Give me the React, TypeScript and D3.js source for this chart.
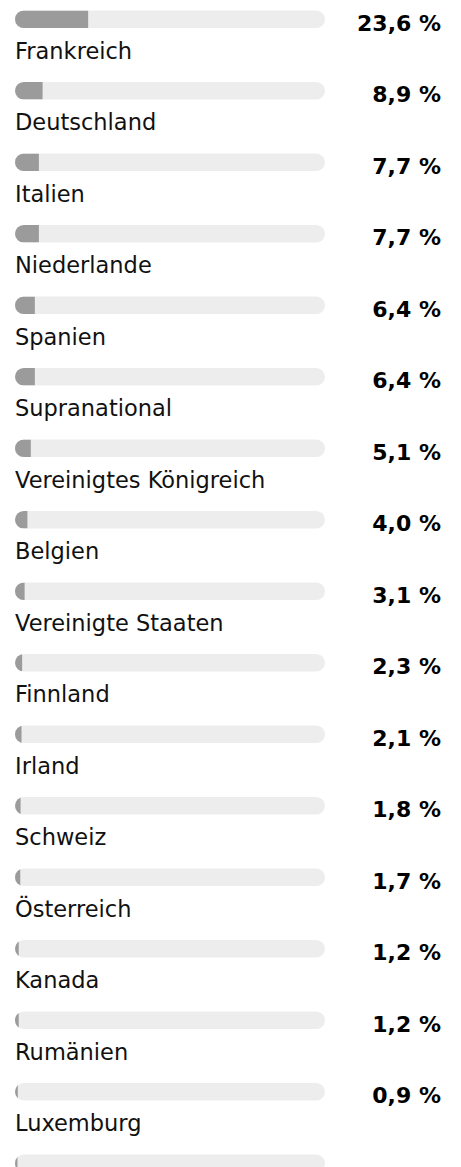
import React from "react";
import * as d3 from "d3";

const categories = [
  "Frankreich", "Deutschland", "Italien", "Niederlande", "Spanien", "Supranational",
  "Vereinigtes Königreich", "Belgien", "Vereinigte Staaten", "Finnland", "Irland",
  "Schweiz", "Österreich", "Kanada", "Rumänien", "Luxemburg", "Sonstige",
];
const values = [23.6, 8.9, 7.7, 7.7, 6.4, 6.4, 5.1, 4.0, 3.1, 2.3, 2.1, 1.8, 1.7, 1.2, 1.2, 0.9, 0.8];

const W = 461;
const H = 1167;
const barX0 = 15;
const barX1 = 325;
const barH = 17.5;
const rowPitch = 71.5;
const top = 10.5;
const valueDy = 20;
const labelDy = 48;

export default function App() {
  const x = d3.scaleLinear().domain([0, 100]).range([barX0, barX1]);
  const y = d3
    .scaleBand<number>()
    .domain(d3.range(categories.length))
    .range([top, top + rowPitch * categories.length]);
  const fmt = (v: number) => d3.format(".1f")(v).replace(".", ",") + " %";
  return (
    <>
      <style>{"body{margin:0;background:#fff}"}</style>
      <svg width={W} height={H} style={{ display: "block" }}>
        <defs>
          {categories.map((_, i) => (
            <clipPath id={`clip${i}`} key={i}>
              <rect x={barX0} y={y(i)!} width={barX1 - barX0} height={barH} rx={barH / 2} />
            </clipPath>
          ))}
        </defs>
        {categories.map((c, i) => {
          const by = y(i)!;
          return (
            <g key={c}>
              <rect x={barX0} y={by} width={barX1 - barX0} height={barH} rx={barH / 2} fill="#ededed" />
              <rect
                x={barX0}
                y={by}
                width={x(values[i]) - x(0)}
                height={barH}
                fill="#9b9b9b"
                clipPath={`url(#clip${i})`}
              />
              {by + valueDy <= H && (
                <text
                  x={441}
                  y={by + valueDy}
                  textAnchor="end"
                  fontFamily="'DejaVu Sans', sans-serif"
                  fontWeight={700}
                  fontSize={22}
                  fill="#000"
                >
                  {fmt(values[i])}
                </text>
              )}
              {by + labelDy <= H && (
                <text x={barX0} y={by + labelDy} fontFamily="'DejaVu Sans', sans-serif" fontSize={22.5} fill="#111">
                  {c}
                </text>
              )}
            </g>
          );
        })}
      </svg>
    </>
  );
}
